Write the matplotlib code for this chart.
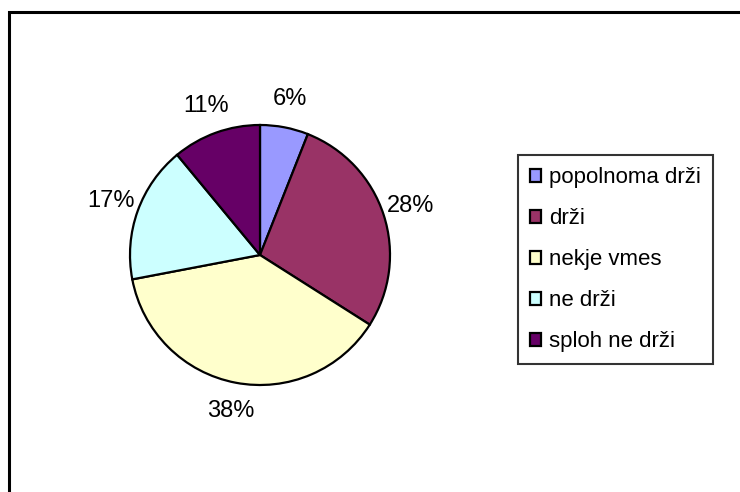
import matplotlib
matplotlib.use('Agg')
import matplotlib.pyplot as plt
from matplotlib.patches import Rectangle

plt.rcParams['font.family'] = ['Liberation Sans', 'DejaVu Sans']

# pie data (percent)
labels = ['popolnoma drži', 'drži', 'nekje vmes', 'ne drži', 'sploh ne drži']
shares = [6, 28, 38, 17, 11]
colors = ['#9999FF', '#993366', '#FFFFCC', '#CCFFFF', '#660066']

fig = plt.figure(figsize=(7.4, 4.92), dpi=100)
fig.patch.set_facecolor('white')

# outer chart border (only top/left visible, rest runs off the picture)
fig.add_artist(Rectangle((9/740, -0.2), 1.2, 0.2 + 1 - 12/492,
                         transform=fig.transFigure, fill=False,
                         edgecolor='black', linewidth=2.2))

ax = fig.add_axes([130/740, 1 - 385/492, 260/740, 260/492])
wedges, texts, autotexts = ax.pie(shares, colors=colors, startangle=90, counterclock=False,
                                  autopct='%.0f%%', pctdistance=1.22,
                                  wedgeprops=dict(edgecolor='black', linewidth=1.6))
for t in autotexts:
    t.set_fontsize(17)
    t.set_color('black')
ax.set_xlim(-1, 1)
ax.set_ylim(-1, 1)
ax.set_aspect('equal')

leg = fig.legend(wedges, labels, loc='upper left', bbox_to_anchor=(518/740, 1 - 155/492),
                 fontsize=16, frameon=True, fancybox=False, edgecolor='black',
                 handlelength=0.5, handleheight=0.5, handletextpad=0.35,
                 labelspacing=0.9, borderpad=0.55, borderaxespad=0)
leg.get_frame().set_linewidth(1.5)

fig.savefig('out.png', dpi=100)
